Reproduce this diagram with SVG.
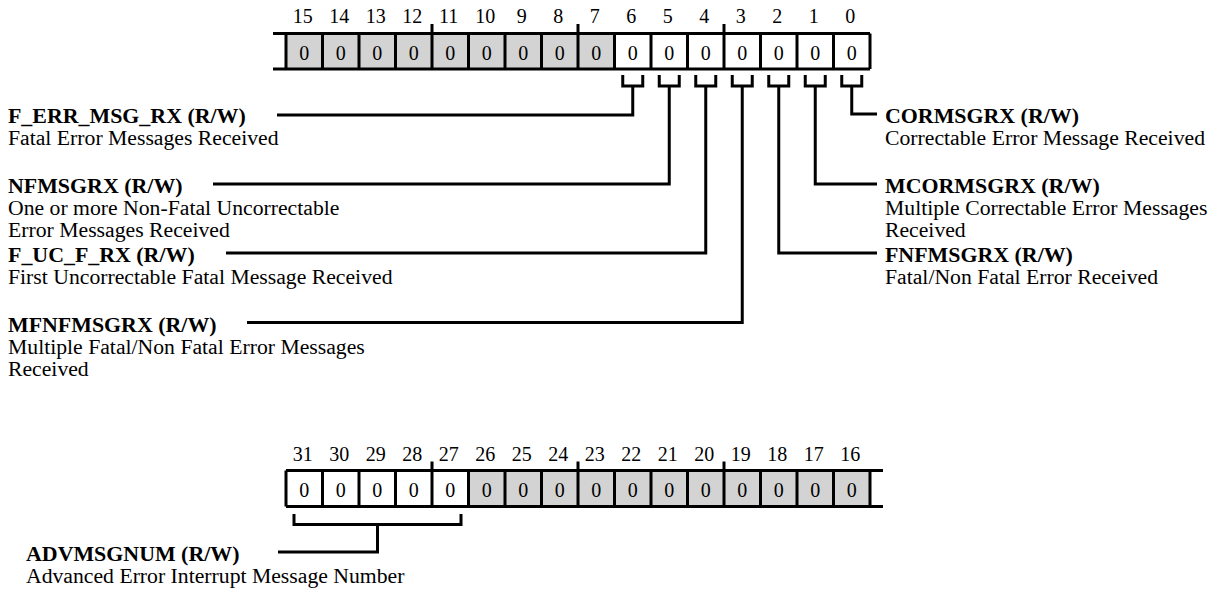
<svg xmlns="http://www.w3.org/2000/svg" width="1217" height="593" viewBox="0 0 1217 593">
<style>
text{font-family:"Liberation Serif","Times New Roman",serif;fill:#000}
.bn{font-size:20px;text-anchor:middle}
.cv{font-size:20px;text-anchor:middle}
.t{font-size:20px;font-weight:bold}
.d{font-size:20px}
.g{fill:#d3d3d3}
.w{fill:#fff}
.ln{stroke:#000;stroke-width:3;fill:none;stroke-linecap:butt;stroke-linejoin:miter}
</style>
<rect width="1217" height="593" fill="#fff"/>

<g id="register-low">
<rect class="g" x="286" y="33.5" width="328.5" height="35.5"/>
<rect class="w" x="614.5" y="33.5" width="255.5" height="35.5"/>
<path class="ln" d="M273 33.5H870M273 69H870M286 33.5V69M322.5 33.5V69M359 33.5V69M395.5 33.5V69M432 24V69M468.5 33.5V69M505 33.5V69M541.5 33.5V69M578 24V69M614.5 33.5V69M651 33.5V69M687.5 33.5V69M724 24V69M760.5 33.5V69M797 33.5V69M833.5 33.5V69M870 33.5V69"/>
<text class="bn" x="302.7" y="23">15</text>
<text class="bn" x="339.2" y="23">14</text>
<text class="bn" x="375.7" y="23">13</text>
<text class="bn" x="412.2" y="23">12</text>
<text class="bn" x="448.7" y="23">11</text>
<text class="bn" x="485.2" y="23">10</text>
<text class="bn" x="521.7" y="23">9</text>
<text class="bn" x="558.2" y="23">8</text>
<text class="bn" x="594.7" y="23">7</text>
<text class="bn" x="631.2" y="23">6</text>
<text class="bn" x="667.7" y="23">5</text>
<text class="bn" x="704.2" y="23">4</text>
<text class="bn" x="740.7" y="23">3</text>
<text class="bn" x="777.2" y="23">2</text>
<text class="bn" x="813.7" y="23">1</text>
<text class="bn" x="850.2" y="23">0</text>
<text class="cv" x="304.25" y="59.5">0</text>
<text class="cv" x="340.75" y="59.5">0</text>
<text class="cv" x="377.25" y="59.5">0</text>
<text class="cv" x="413.75" y="59.5">0</text>
<text class="cv" x="450.25" y="59.5">0</text>
<text class="cv" x="486.75" y="59.5">0</text>
<text class="cv" x="523.25" y="59.5">0</text>
<text class="cv" x="559.75" y="59.5">0</text>
<text class="cv" x="596.25" y="59.5">0</text>
<text class="cv" x="632.75" y="59.5">0</text>
<text class="cv" x="669.25" y="59.5">0</text>
<text class="cv" x="705.75" y="59.5">0</text>
<text class="cv" x="742.25" y="59.5">0</text>
<text class="cv" x="778.75" y="59.5">0</text>
<text class="cv" x="815.25" y="59.5">0</text>
<text class="cv" x="851.75" y="59.5">0</text>
</g>

<g id="register-high">
<rect class="w" x="286" y="470.5" width="182.5" height="36"/>
<rect class="g" x="468.5" y="470.5" width="401.5" height="36"/>
<path class="ln" d="M286 470.5H883M286 506.5H883M286 470.5V506.5M322.5 470.5V506.5M359 470.5V506.5M395.5 470.5V506.5M432 461.5V506.5M468.5 470.5V506.5M505 470.5V506.5M541.5 470.5V506.5M578 461.5V506.5M614.5 470.5V506.5M651 470.5V506.5M687.5 470.5V506.5M724 461.5V506.5M760.5 470.5V506.5M797 470.5V506.5M833.5 470.5V506.5M870 470.5V506.5"/>
<text class="bn" x="302.7" y="460.5">31</text>
<text class="bn" x="339.2" y="460.5">30</text>
<text class="bn" x="375.7" y="460.5">29</text>
<text class="bn" x="412.2" y="460.5">28</text>
<text class="bn" x="448.7" y="460.5">27</text>
<text class="bn" x="485.2" y="460.5">26</text>
<text class="bn" x="521.7" y="460.5">25</text>
<text class="bn" x="558.2" y="460.5">24</text>
<text class="bn" x="594.7" y="460.5">23</text>
<text class="bn" x="631.2" y="460.5">22</text>
<text class="bn" x="667.7" y="460.5">21</text>
<text class="bn" x="704.2" y="460.5">20</text>
<text class="bn" x="740.7" y="460.5">19</text>
<text class="bn" x="777.2" y="460.5">18</text>
<text class="bn" x="813.7" y="460.5">17</text>
<text class="bn" x="850.2" y="460.5">16</text>
<text class="cv" x="304.25" y="497">0</text>
<text class="cv" x="340.75" y="497">0</text>
<text class="cv" x="377.25" y="497">0</text>
<text class="cv" x="413.75" y="497">0</text>
<text class="cv" x="450.25" y="497">0</text>
<text class="cv" x="486.75" y="497">0</text>
<text class="cv" x="523.25" y="497">0</text>
<text class="cv" x="559.75" y="497">0</text>
<text class="cv" x="596.25" y="497">0</text>
<text class="cv" x="632.75" y="497">0</text>
<text class="cv" x="669.25" y="497">0</text>
<text class="cv" x="705.75" y="497">0</text>
<text class="cv" x="742.25" y="497">0</text>
<text class="cv" x="778.75" y="497">0</text>
<text class="cv" x="815.25" y="497">0</text>
<text class="cv" x="851.75" y="497">0</text>
</g>

<g id="connectors">
<path class="ln" d="M622.75 75V86H642.75V75M632.75 86V115H277"/>
<path class="ln" d="M659.25 75V86H679.25V75M669.25 86V184H213"/>
<path class="ln" d="M695.75 75V86H715.75V75M705.75 86V253H226"/>
<path class="ln" d="M732.25 75V86H752.25V75M742.25 86V322.5H247"/>
<path class="ln" d="M768.75 75V86H788.75V75M778.75 86V253H877"/>
<path class="ln" d="M805.25 75V86H825.25V75M815.25 86V184H877"/>
<path class="ln" d="M841.75 75V86H861.75V75M851.75 86V114H877"/>
<path class="ln" d="M294 514V524.5H461V514M377.5 524.5V552H278"/>
</g>

<g id="f-err-msg-rx">
<text class="t" x="8" y="123" textLength="237.8" lengthAdjust="spacingAndGlyphs">F_ERR_MSG_RX (R/W)</text>
<text class="d" x="8" y="145" textLength="270.6" lengthAdjust="spacingAndGlyphs">Fatal Error Messages Received</text>
</g>
<g id="nfmsgrx">
<text class="t" x="8" y="192.5" textLength="174.6" lengthAdjust="spacingAndGlyphs">NFMSGRX (R/W)</text>
<text class="d" x="8" y="214.5" textLength="331.4" lengthAdjust="spacingAndGlyphs">One or more Non-Fatal Uncorrectable</text>
<text class="d" x="8" y="236.5" textLength="221.8" lengthAdjust="spacingAndGlyphs">Error Messages Received</text>
</g>
<g id="f-uc-f-rx">
<text class="t" x="8" y="262" textLength="186.7" lengthAdjust="spacingAndGlyphs">F_UC_F_RX (R/W)</text>
<text class="d" x="8" y="284" textLength="384.5" lengthAdjust="spacingAndGlyphs">First Uncorrectable Fatal Message Received</text>
</g>
<g id="mfnfmsgrx">
<text class="t" x="8" y="331.5" textLength="208.6" lengthAdjust="spacingAndGlyphs">MFNFMSGRX (R/W)</text>
<text class="d" x="8" y="353.5" textLength="356.8" lengthAdjust="spacingAndGlyphs">Multiple Fatal/Non Fatal Error Messages</text>
<text class="d" x="8" y="375.5" textLength="80.7" lengthAdjust="spacingAndGlyphs">Received</text>
</g>
<g id="cormsgrx">
<text class="t" x="885" y="123" textLength="194" lengthAdjust="spacingAndGlyphs">CORMSGRX (R/W)</text>
<text class="d" x="885" y="145" textLength="320" lengthAdjust="spacingAndGlyphs">Correctable Error Message Received</text>
</g>
<g id="mcormsgrx">
<text class="t" x="885" y="192.5" textLength="214.7" lengthAdjust="spacingAndGlyphs">MCORMSGRX (R/W)</text>
<text class="d" x="885" y="214.5" textLength="322.4" lengthAdjust="spacingAndGlyphs">Multiple Correctable Error Messages</text>
<text class="d" x="885" y="236.5" textLength="80.7" lengthAdjust="spacingAndGlyphs">Received</text>
</g>
<g id="fnfmsgrx">
<text class="t" x="885" y="262" textLength="187.9" lengthAdjust="spacingAndGlyphs">FNFMSGRX (R/W)</text>
<text class="d" x="885" y="284" textLength="273" lengthAdjust="spacingAndGlyphs">Fatal/Non Fatal Error Received</text>
</g>
<g id="advmsgnum">
<text class="t" x="26" y="561" textLength="213.5" lengthAdjust="spacingAndGlyphs">ADVMSGNUM (R/W)</text>
<text class="d" x="26" y="583" textLength="378.4" lengthAdjust="spacingAndGlyphs">Advanced Error Interrupt Message Number</text>
</g>
</svg>
